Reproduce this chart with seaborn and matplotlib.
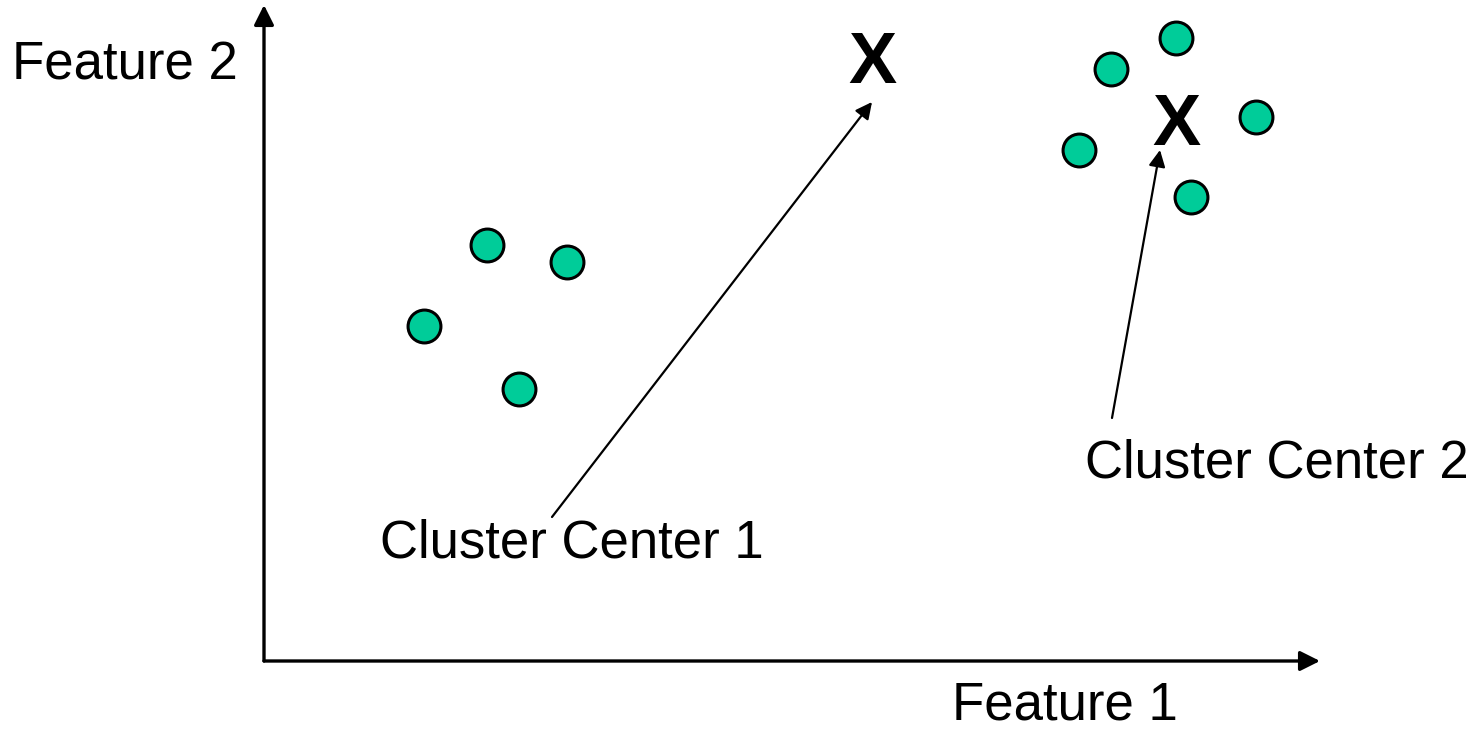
"""
Two k-means style clusters with their centers marked.
"""
import pandas as pd
import matplotlib
matplotlib.use("Agg")
import matplotlib.pyplot as plt
import seaborn as sns

# feature coordinates (origin at the axis corner, y up)
cluster1_x = [223, 303, 160, 255]
cluster1_y = [416, 399, 335, 272]
cluster2_x = [912, 847, 992, 815, 927]
cluster2_y = [623, 592, 544, 511, 464]
center_labels = ["Cluster Center 1", "Cluster Center 2"]
center_x = [608, 912]
center_y = [597, 535]
label_x = [116, 821]
label_y = [117, 198]
arrow_tail_x = [288, 848]
arrow_tail_y = [144, 243]
arrow_tip_x = [608, 896]
arrow_tip_y = [559, 511]
axis_names = ["Feature 1", "Feature 2"]

sns.set_theme(style="white")
plt.rcParams["font.family"] = ["Liberation Sans", "DejaVu Sans"]

df = pd.DataFrame({
    "x": cluster1_x + cluster2_x,
    "y": cluster1_y + cluster2_y,
})

fig = plt.figure(figsize=(14.81, 7.33), dpi=100)
ax = fig.add_axes([0, 0, 1, 1])
ax.set_xlim(-264, 1481 - 264)
ax.set_ylim(661 - 733, 661)
ax.axis("off")

# axes drawn as arrows
ax.annotate("", xy=(0, 656), xytext=(0, 0),
            arrowprops=dict(arrowstyle="-|>", color="black", lw=2.4,
                            mutation_scale=30, shrinkA=0, shrinkB=0))
ax.annotate("", xy=(1056, 0), xytext=(0, 0),
            arrowprops=dict(arrowstyle="-|>", color="black", lw=2.4,
                            mutation_scale=30, shrinkA=0, shrinkB=0))
ax.text(-26, 596, axis_names[1], fontsize=38, ha="right", va="center", color="black")
ax.text(801, -45, axis_names[0], fontsize=38, ha="center", va="center", color="black")

sns.scatterplot(data=df, x="x", y="y", ax=ax, s=560, color="#00CC99",
                edgecolor="black", linewidth=2.2, legend=False, zorder=3)

# center markers
for cx, cy in zip(center_x, center_y):
    ax.text(cx, cy, "X", fontsize=52, fontweight="bold", ha="center",
            va="center", color="black")

# labels with arrows pointing at the centers
for lab, lx, ly, tx, ty, hx, hy in zip(center_labels, label_x, label_y,
                                       arrow_tail_x, arrow_tail_y,
                                       arrow_tip_x, arrow_tip_y):
    ax.text(lx, ly, lab, fontsize=38, ha="left", va="center", color="black")
    ax.annotate("", xy=(hx, hy), xytext=(tx, ty),
                arrowprops=dict(arrowstyle="-|>", color="black", lw=1.6,
                                mutation_scale=25, shrinkA=0, shrinkB=0))

fig.savefig("out.png", dpi=100)
